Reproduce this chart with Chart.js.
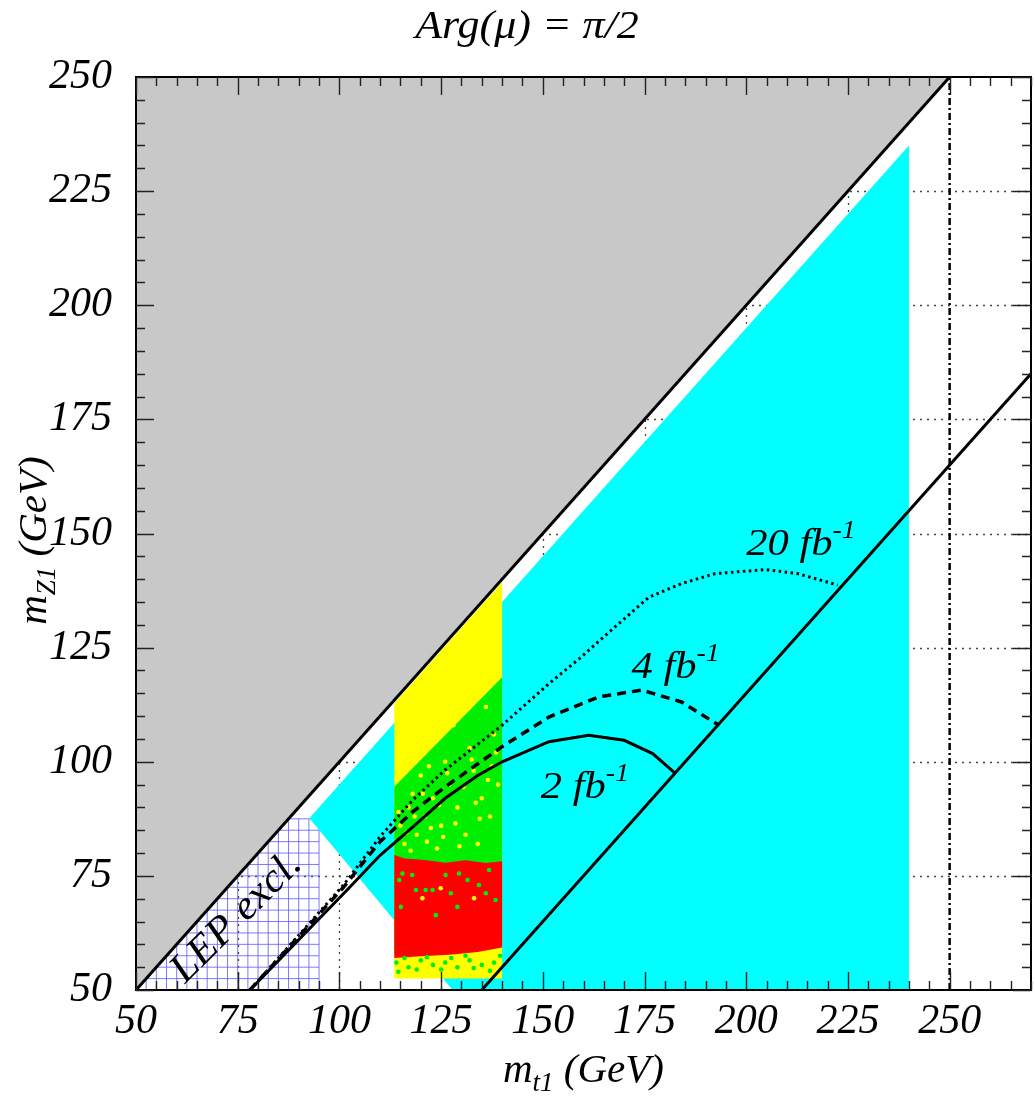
<!DOCTYPE html>
<html>
<head>
<meta charset="utf-8">
<script src="https://cdn.jsdelivr.net/npm/chart.js@4.4.0/dist/chart.umd.min.js"></script>
<style>
  html, body { margin: 0; padding: 0; background: #fff; }
  #wrap { width: 1035px; height: 1096px; }
</style>
</head>
<body>
<div id="wrap"><canvas id="grafico" width="1035" height="1096"></canvas></div>
<script>
// Ejes
const xTicks = [50, 75, 100, 125, 150, 175, 200, 225, 250];
const yTicks = [50, 75, 100, 125, 150, 175, 200, 225, 250];
const xMin = 50, xMax = 270, yMin = 50, yMax = 250;

// Rectas cinemáticas
const diagX = [50, 250];          // m_Z1 = m_t1
const diagY = [50, 250];
const wbX = [135, 270];           // m_t1 = m_Z1 + m_W + m_b
const wbY = [50, 185];
const vertX = [250, 250];
const vertY = [50, 250];

// Regiones
const grisX = [50, 250, 50];
const grisY = [50, 250, 250];
const cianX = [92.6, 127.8, 240, 240];
const cianY = [87.6, 50, 50, 235];
const amarX = [113.5, 140, 140, 113.5];
const amarY = [52.5, 52.5, 139.3, 112.8];
const verdeX = [113.5, 140, 140, 113.5];
const verdeY = [58, 60, 118.5, 94.5];
const rojoX = [113.5, 120, 127, 134, 140, 140, 136, 131, 126, 121, 116, 113.5];
const rojoY = [57, 57.4, 57.7, 58.3, 59.3, 78.2, 77.8, 78.4, 77.9, 78.5, 78.8, 79.6];

// Zona LEP (rejilla)
const lepPaso = 2.5, lepMaxX = 95, lepMaxY = 87.5;

// Curvas de descubrimiento
const c2X = [78, 102, 110, 118, 126, 134, 140, 151.5, 161.3, 170, 177, 182.5];
const c2Y = [50, 72, 79.5, 85.7, 92, 97, 100, 104.4, 105.8, 104.7, 101.8, 97.5];
const c4X = [78, 101, 110, 118, 126, 140, 151.5, 163.7, 174.3, 184.1, 193.1];
const c4Y = [50, 72.5, 82.5, 89, 94.5, 103.3, 109.8, 114.2, 115.7, 113.1, 108.1];
const c20X = [78, 101, 110, 118, 126, 140, 151.5, 159, 164, 176, 184, 192.3, 204.6, 212.7, 222.5];
const c20Y = [50, 73, 83.6, 91.6, 98.2, 108, 117.1, 122.6, 126.6, 136, 139, 141.2, 142.1, 141.2, 138.7];

// Etiquetas de las curvas
const etiquetas = ['20', '4', '2'];
const etqX = [200, 171.8, 149.5];
const etqY = [145.2, 118.3, 92];

// Puntos sueltos
const ptsVerdeX = [115.5, 115.1, 118.8, 121.2, 122.9, 123.7, 127.4, 131.5, 136, 138.4, 129, 117.9, 129.4, 136.8, 134.3, 114.7, 126.1,
                   114, 117, 120, 123, 126, 129, 132, 135, 138, 139.5, 116, 131, 119, 125, 133, 137, 114.5, 121.5, 127.5];
const ptsVerdeY = [75.5, 68.2, 71.9, 71.9, 71.9, 66.4, 71.2, 74.1, 71.2, 69.7, 68.2, 75.2, 75.5, 76.3, 73, 74.1, 75.2,
                   56, 55, 56.5, 55.5, 56, 55, 56.5, 55.5, 56, 57.5, 57, 57.5, 54.5, 54.5, 54.8, 54.2, 54, 57.2, 57];
const ptsAmarX = [120.4, 133.1, 124.9, 115, 117, 119, 121, 123, 125, 127, 129, 131, 133, 135, 137, 120, 126, 132, 138, 116, 124, 134, 139, 128, 136, 118, 122,
                  114.5, 116.5, 118.5, 120.5, 122.5, 124.5, 126.5, 128.5, 130.5, 132.5, 134.5, 136.5, 138.5, 117.5, 121.5, 125.5, 129.5, 133.5, 137.5];
const ptsAmarY = [70.1, 70.1, 72.3, 86, 90, 84, 88, 92, 86, 95, 90, 84, 98, 92, 88, 97, 100, 103, 106, 82, 81, 82, 95, 108, 112, 93, 99,
                  89, 84.5, 88, 93, 85.5, 90.5, 97.5, 86.5, 94.5, 100.5, 87.5, 96, 102, 80.5, 82.5, 83.5, 81.5, 91, 99];

const toPts = (xs, ys) => xs.map((x, i) => ({ x: x, y: ys[i] }));

function region(xs, ys, color, order) {
  const pts = toPts(xs, ys);
  pts.push(pts[0]);
  return { data: pts, showLine: true, fill: 'shape', backgroundColor: color,
           borderColor: 'rgba(0,0,0,0)', borderWidth: 1, pointRadius: 0, order: order };
}

function linea(xs, ys, width, dash, order) {
  return { data: toPts(xs, ys), showLine: true, fill: false, borderColor: '#000',
           borderWidth: width, borderDash: dash, pointRadius: 0, tension: 0, order: order };
}

function puntos(xs, ys, color, order) {
  return { data: toPts(xs, ys), showLine: false, backgroundColor: color, borderWidth: 0,
           pointRadius: 2.3, order: order };
}

const serif = '"Liberation Serif", "DejaVu Serif", serif';

// Texto con sub/superíndice (sx: estiramiento horizontal)
function textoRico(ctx, partes, x, y, align, sx = 1) {
  let total = 0;
  partes.forEach(p => { ctx.font = `italic ${p.size}px ${serif}`; p.w = ctx.measureText(p.t).width; total += p.w; });
  ctx.save();
  ctx.translate(x, y);
  ctx.scale(sx, 1);
  let cx = align === 'center' ? -total / 2 : 0;
  partes.forEach(p => {
    ctx.font = `italic ${p.size}px ${serif}`;
    ctx.fillText(p.t, cx, p.dy || 0);
    cx += p.w;
  });
  ctx.restore();
}

const decoraciones = {
  id: 'decoraciones',
  beforeDatasetsDraw(chart) {
    const { ctx, chartArea: a, scales: { x, y } } = chart;
    ctx.save();
    ctx.beginPath(); ctx.rect(a.left, a.top, a.width, a.height); ctx.clip();
    // rejilla punteada
    ctx.strokeStyle = '#444'; ctx.lineWidth = 1.3; ctx.setLineDash([2, 5]);
    xTicks.forEach(v => {
      if (v <= xMin || v >= 250) return;
      const px = Math.round(x.getPixelForValue(v)) + 0.5;
      ctx.beginPath(); ctx.moveTo(px, a.top); ctx.lineTo(px, a.bottom); ctx.stroke();
    });
    yTicks.forEach(v => {
      if (v <= yMin || v >= yMax) return;
      const py = Math.round(y.getPixelForValue(v)) + 0.5;
      ctx.beginPath(); ctx.moveTo(a.left, py); ctx.lineTo(a.right, py); ctx.stroke();
    });
    // rejilla LEP
    ctx.setLineDash([]); ctx.strokeStyle = 'rgba(90,90,255,0.8)'; ctx.lineWidth = 1;
    for (let v = xMin + lepPaso; v <= lepMaxX + 0.01; v += lepPaso) {
      const px = x.getPixelForValue(v);
      ctx.beginPath(); ctx.moveTo(px, y.getPixelForValue(yMin)); ctx.lineTo(px, y.getPixelForValue(Math.min(v, lepMaxY))); ctx.stroke();
    }
    for (let v = yMin + lepPaso; v <= lepMaxY + 0.01; v += lepPaso) {
      const py = y.getPixelForValue(v);
      ctx.beginPath(); ctx.moveTo(x.getPixelForValue(v), py); ctx.lineTo(x.getPixelForValue(lepMaxX), py); ctx.stroke();
    }
    ctx.restore();
  },
  afterDatasetsDraw(chart) {
    const { ctx, chartArea: a, scales: { x, y } } = chart;
    ctx.save();
    // marco
    ctx.strokeStyle = '#000'; ctx.lineWidth = 2; ctx.setLineDash([]);
    ctx.strokeRect(a.left, a.top, a.width, a.height);
    // marcas hacia dentro
    ctx.lineWidth = 1.4; ctx.strokeStyle = '#222';
    for (let v = xMin; v <= xMax; v += 5) {
      const px = Math.round(x.getPixelForValue(v)) + 0.5;
      const len = v % 25 === 0 ? 18 : 9;
      ctx.beginPath(); ctx.moveTo(px, a.bottom); ctx.lineTo(px, a.bottom - len);
      ctx.moveTo(px, a.top); ctx.lineTo(px, a.top + len); ctx.stroke();
    }
    for (let v = yMin; v <= yMax; v += 5) {
      const py = Math.round(y.getPixelForValue(v)) + 0.5;
      const len = v % 25 === 0 ? 18 : 9;
      ctx.beginPath(); ctx.moveTo(a.left, py); ctx.lineTo(a.left + len, py);
      ctx.moveTo(a.right, py); ctx.lineTo(a.right - len, py); ctx.stroke();
    }
    // etiquetas de luminosidad
    ctx.fillStyle = '#000'; ctx.textBaseline = 'alphabetic'; ctx.textAlign = 'left';
    etiquetas.forEach((t, i) => {
      textoRico(ctx, [{ t: t + ' fb', size: 38 }, { t: '-1', size: 25, dy: -17 }],
        x.getPixelForValue(etqX[i]), y.getPixelForValue(etqY[i]), 'left', 1.12);
    });
    // LEP excl.
    ctx.save();
    ctx.translate(x.getPixelForValue(76.6), y.getPixelForValue(64.2));
    ctx.rotate(-Math.PI / 4);
    ctx.textAlign = 'center';
    ctx.scale(1.05, 1);
    ctx.font = `italic 41px ${serif}`;
    ctx.fillText('LEP excl.', 0, 0);
    ctx.restore();
    ctx.restore();
  },
  afterDraw(chart) {
    const { ctx, chartArea: a } = chart;
    ctx.save();
    ctx.fillStyle = '#000'; ctx.textBaseline = 'alphabetic'; ctx.textAlign = 'left';
    // título
    textoRico(ctx, [{ t: 'Arg(μ) = π/2', size: 40 }], 527, 38, 'center', 1.1);
    // eje x
    textoRico(ctx, [{ t: 'm', size: 41 }, { t: 't1', size: 27, dy: 9 }, { t: ' (GeV)', size: 41 }],
      (a.left + a.right) / 2, 1082, 'center');
    // eje y
    ctx.translate(46, (a.top + a.bottom) / 2 + 7);
    ctx.rotate(-Math.PI / 2);
    textoRico(ctx, [{ t: 'm', size: 41 }, { t: 'Z1', size: 27, dy: 9 }, { t: ' (GeV)', size: 41 }], 0, 0, 'center');
    ctx.restore();
  }
};

const fuenteTicks = { family: serif, style: 'italic', size: 42 };

new Chart(document.getElementById('grafico'), {
  type: 'scatter',
  data: {
    datasets: [
      region(grisX, grisY, '#c8c8c8', 20),
      region(cianX, cianY, '#00ffff', 19),
      region(amarX, amarY, '#ffff00', 18),
      region(verdeX, verdeY, '#00ee00', 17),
      region(rojoX, rojoY, '#ff0000', 16),
      puntos(ptsVerdeX, ptsVerdeY, '#00ee00', 15),
      puntos(ptsAmarX, ptsAmarY, '#ffff00', 14),
      linea(diagX, diagY, 3, [], 5),
      linea(wbX, wbY, 3, [], 5),
      linea(vertX, vertY, 2.5, [7, 3, 2, 3], 5),
      linea(c20X, c20Y, 3, [2.5, 3.5], 3),
      linea(c4X, c4Y, 3.5, [9, 6], 3),
      linea(c2X, c2Y, 3, [], 3)
    ]
  },
  options: {
    responsive: false,
    devicePixelRatio: 1,
    animation: false,
    events: [],
    layout: { padding: { top: 77, right: 3, left: 0, bottom: 0 } },
    plugins: { legend: { display: false }, tooltip: { enabled: false }, title: { display: false } },
    scales: {
      x: {
        type: 'linear', min: xMin, max: xMax,
        grid: { display: false, drawTicks: false },
        border: { display: false },
        ticks: { stepSize: 25, includeBounds: false, font: fuenteTicks, color: '#000', padding: 7, maxRotation: 0 },
        afterFit(scale) { scale.height = 106; }
      },
      y: {
        type: 'linear', min: yMin, max: yMax,
        grid: { display: false, drawTicks: false },
        border: { display: false },
        ticks: { stepSize: 25, font: fuenteTicks, color: '#000', padding: 24 },
        afterFit(scale) { scale.width = 136; }
      }
    }
  },
  plugins: [decoraciones]
});
</script>
</body>
</html>
